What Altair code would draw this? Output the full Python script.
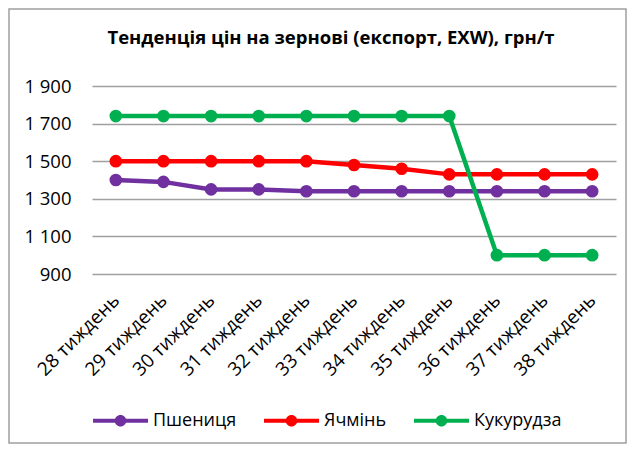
import altair as alt
import pandas as pd

weeks = ["28 тиждень", "29 тиждень", "30 тиждень", "31 тиждень", "32 тиждень", "33 тиждень",
         "34 тиждень", "35 тиждень", "36 тиждень", "37 тиждень", "38 тиждень"]
series_names = ["Пшениця", "Ячмінь", "Кукурудза"]
wheat = [1400, 1390, 1350, 1350, 1340, 1340, 1340, 1340, 1340, 1340, 1340]
barley = [1500, 1500, 1500, 1500, 1500, 1480, 1460, 1430, 1430, 1430, 1430]
corn = [1740, 1740, 1740, 1740, 1740, 1740, 1740, 1740, 1000, 1000, 1000]
colors = ["#7030A0", "#FF0000", "#00B050"]
y_ticks = [900, 1100, 1300, 1500, 1700, 1900]

rows = []
for name, vals in zip(series_names, [wheat, barley, corn]):
    for i, (w, v) in enumerate(zip(weeks, vals)):
        rows.append({"week": w, "series": name, "value": v})
df = pd.DataFrame(rows)

FONT = "Open Sans"
W, H = 524, 188
PL, PT = 84, 78
TOTAL_W, TOTAL_H = 619, 436

legend_path = ("M-1,-0.075 L1,-0.075 L1,0.075 L-1,0.075 Z "
               "M0.21,0 A0.21,0.21 0 1,1 -0.21,0 A0.21,0.21 0 1,1 0.21,0 Z")

color_scale = alt.Scale(domain=series_names, range=colors)

x_enc = alt.X("week:N", sort=weeks, scale=alt.Scale(padding=0.5),
              axis=alt.Axis(title=None, labelAngle=-45, labelAlign="right", labelBaseline="middle",
                            labelPadding=23, ticks=False, domain=False, grid=False,
                            labelFontSize=19, labelFont=FONT, labelColor="#000000"))
y_enc = alt.Y("value:Q", scale=alt.Scale(domain=[900, 1900], nice=False, zero=False),
              axis=alt.Axis(title=None, values=y_ticks, ticks=False, domain=False,
                            labelExpr="replace(format(datum.value, ','), ',', ' ')",
                            labelPadding=21, labelFontSize=18.5, labelFont=FONT, labelColor="#000000",
                            gridColor="#a0a0a0", gridWidth=1.3))
legend = alt.Legend(title=None, orient="none", direction="horizontal",
                    legendX=1, legendY=307, padding=0,
                    symbolType=legend_path, symbolSize=3025,
                    symbolStrokeWidth=0, symbolOpacity=1, labelOffset=5, columnPadding=27,
                    labelFontSize=18, labelFont=FONT, labelColor="#000000")
color_enc = alt.Color("series:N", scale=color_scale, sort=series_names, legend=legend)

base = alt.Chart(df)
lines = base.mark_line(strokeWidth=4.5).encode(x=x_enc, y=y_enc, color=color_enc,
                                                detail="series:N")
points = base.mark_point(filled=True, size=160, opacity=1).encode(
    x=x_enc, y=y_enc, color=color_enc)

frame = alt.Chart(pd.DataFrame({"a": [0]})).mark_rect(
    fill="transparent", stroke="#a0a0a0", strokeWidth=1.5).encode(
    x=alt.value(-PL + 1), x2=alt.value(TOTAL_W - PL - 1),
    y=alt.value(-PT + 1), y2=alt.value(TOTAL_H - PT - 1))

chart = alt.layer(frame, lines, points).properties(
    width=W, height=H,
    title=alt.TitleParams("Тенденція цін на зернові (експорт, EXW), грн/т",
                          font=FONT, fontSize=18.5, fontWeight="bold", color="#000000",
                          anchor="middle", frame="group", baseline="alphabetic",
                          dx=-23, dy=54, offset=0),
    autosize=alt.AutoSizeParams(type="none"),
    padding={"left": PL, "top": PT, "right": TOTAL_W - PL - W, "bottom": TOTAL_H - PT - H},
).configure_view(stroke=None)

chart.save("out.html", embed_options={"renderer": "svg", "actions": False})
